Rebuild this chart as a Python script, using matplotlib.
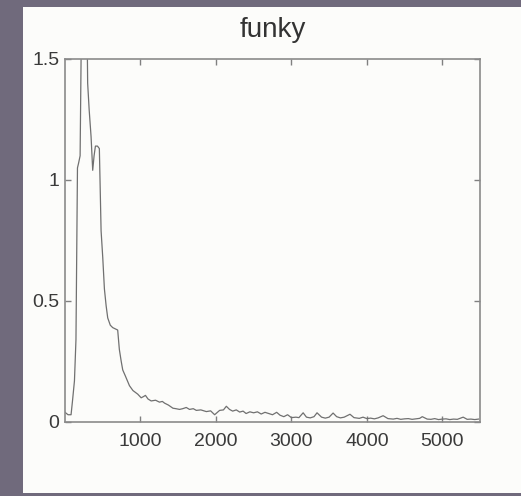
import matplotlib
matplotlib.use("Agg")
import matplotlib.pyplot as plt
from matplotlib.patches import Rectangle

# curve (x: sample index, y: value)
xs = [0, 40, 80, 100, 125, 145, 165, 180, 200, 216,
      250, 290, 300, 320, 345, 367, 385, 403, 430, 455,
      478, 500, 522, 545, 566, 600, 632, 665, 698, 720,
      745, 765, 800, 854, 900, 964, 1009, 1040, 1066, 1100,
      1142, 1200, 1252, 1290, 1319, 1370, 1430, 1470, 1518, 1560,
      1607, 1650, 1700, 1740, 1800, 1873, 1930, 1983, 2049, 2100,
      2138, 2180, 2222, 2270, 2315, 2360, 2400, 2450, 2500, 2550,
      2600, 2650, 2700, 2750, 2805, 2850, 2900, 2950, 3000, 3060,
      3100, 3156, 3200, 3250, 3300, 3340, 3400, 3450, 3500, 3553,
      3600, 3650, 3700, 3777, 3830, 3900, 3950, 4000, 4050, 4100,
      4150, 4216, 4280, 4350, 4400, 4450, 4500, 4550, 4600, 4650,
      4700, 4735, 4800, 4850, 4900, 4950, 5000, 5050, 5100, 5150,
      5200, 5277, 5330, 5380, 5430, 5480]
ys = [0.04, 0.03, 0.03, 0.09, 0.17, 0.34, 1.05, 1.07, 1.10, 1.6,
      1.95, 1.7, 1.40, 1.29, 1.18, 1.04, 1.10, 1.14, 1.14, 1.13,
      0.79, 0.68, 0.55, 0.48, 0.43, 0.40, 0.39, 0.385, 0.38, 0.30,
      0.25, 0.215, 0.19, 0.15, 0.13, 0.115, 0.10, 0.105, 0.11, 0.095,
      0.087, 0.09, 0.082, 0.085, 0.078, 0.07, 0.057, 0.055, 0.052, 0.055,
      0.06, 0.052, 0.055, 0.048, 0.05, 0.043, 0.046, 0.03, 0.048, 0.05,
      0.065, 0.052, 0.045, 0.05, 0.041, 0.045, 0.035, 0.042, 0.038, 0.042,
      0.033, 0.04, 0.035, 0.03, 0.04, 0.028, 0.022, 0.03, 0.018, 0.02,
      0.018, 0.038, 0.02, 0.017, 0.022, 0.038, 0.02, 0.016, 0.02, 0.037,
      0.022, 0.017, 0.02, 0.032, 0.018, 0.015, 0.02, 0.014, 0.016, 0.013,
      0.017, 0.026, 0.014, 0.012, 0.015, 0.011, 0.013, 0.014, 0.011, 0.013,
      0.015, 0.022, 0.012, 0.011, 0.014, 0.01, 0.012, 0.013, 0.01, 0.012,
      0.011, 0.02, 0.011, 0.012, 0.01, 0.012]
assert len(xs) == len(ys)

x_ticks = [1000, 2000, 3000, 4000, 5000]
y_ticks = [0, 0.5, 1, 1.5]
y_tick_labels = ["0", "0.5", "1", "1.5"]
title = "funky"

plt.rcParams['font.family'] = ['Liberation Sans', 'DejaVu Sans']

fig = plt.figure(figsize=(5.21, 4.96), dpi=100)
fig.patch.set_facecolor('#706a7c')
# white slide panel behind the plot
fig.patches.append(Rectangle((0.044, 0.006), 0.956, 0.98, transform=fig.transFigure,
                             facecolor='#fcfcfa', edgecolor='none', zorder=-10))

ax = fig.add_axes([0.1248, 0.1492, 0.7965, 0.7319])
ax.set_facecolor('#fcfcfa')
ax.plot(xs, ys, color='#707070', lw=0.9)

ax.set_xlim(0, 5500)
ax.set_ylim(0, 1.5)
ax.set_xticks(x_ticks)
ax.set_yticks(y_ticks)
ax.set_yticklabels(y_tick_labels)
ax.tick_params(direction='in', top=True, right=True, length=4, width=1,
               color='#808080', labelsize=14, labelcolor='#3a3a3a')
ax.tick_params(axis='x', pad=8)
ax.tick_params(axis='y', pad=4)
for s in ax.spines.values():
    s.set_color('#8a8a8a')
    s.set_linewidth(1.2)
ax.set_title(title, fontsize=20, color='#333333', pad=16)

fig.savefig('out.png', dpi=100, facecolor=fig.get_facecolor())
